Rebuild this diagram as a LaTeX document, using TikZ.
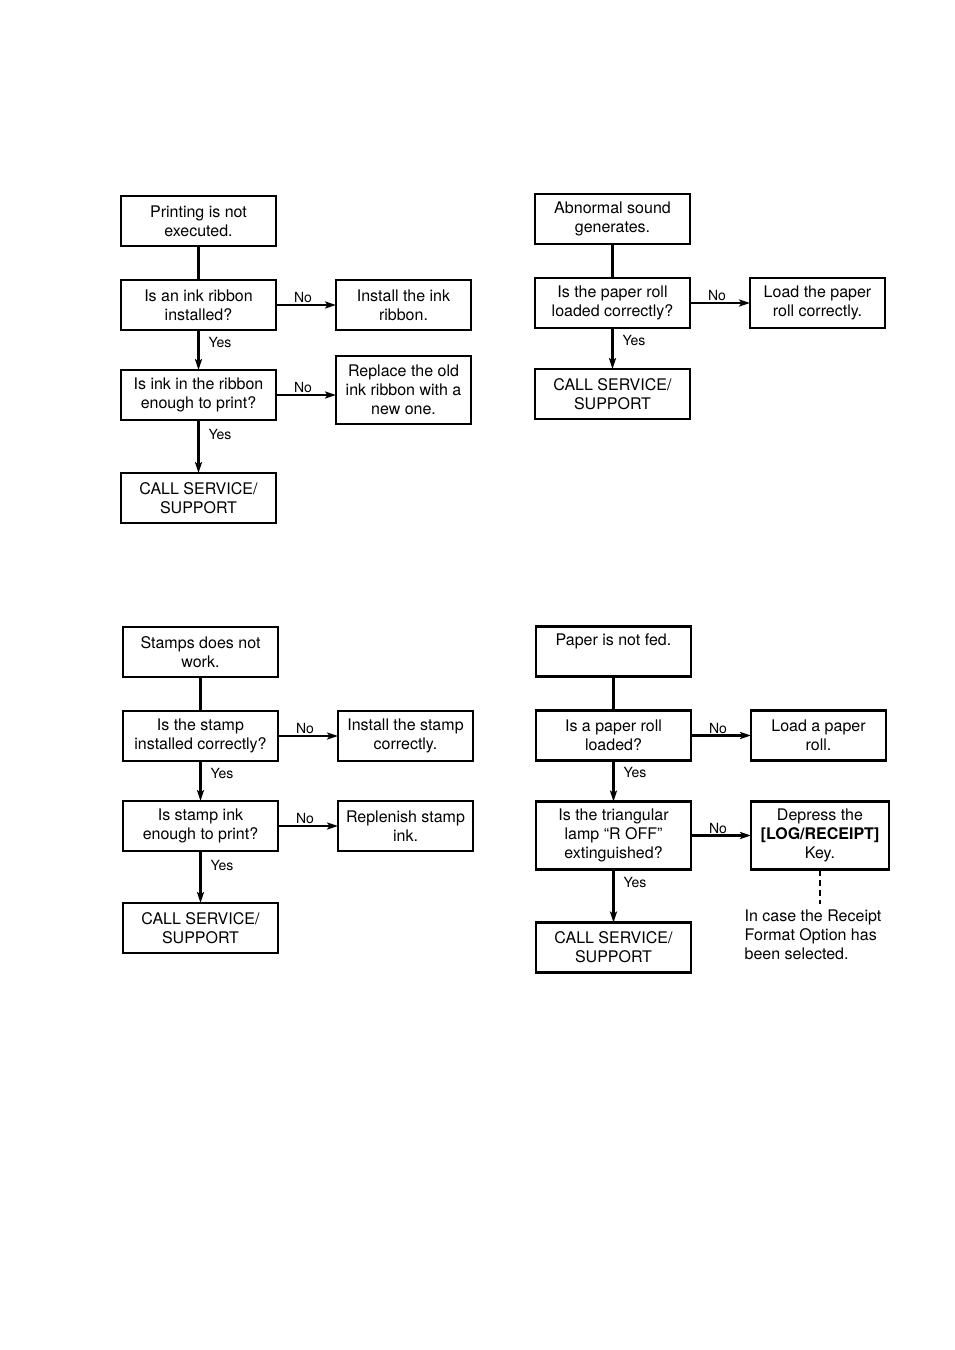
\documentclass[tikz,border=0pt]{standalone}
\usepackage{fontspec}
\setmainfont{TeX Gyre Heros}
\usetikzlibrary{positioning,arrows.meta}

\begin{document}
\begin{tikzpicture}[x=1pt,y=-1pt,font=\fontsize{16}{19}\selectfont,
  box/.style={draw,line width=2.1pt,minimum width=155pt,minimum height=50pt,
              align=center,inner sep=2pt,outer sep=0pt},
  act/.style={box,minimum width=135pt},
  tall/.style={minimum height=68pt},
  a/.style={-{Stealth[length=11pt,width=7pt,inset=2.5pt]},line width=2.2pt},
  ln/.style={line width=2.2pt},
  lab/.style={font=\fontsize{14}{16}\selectfont,inner sep=1pt}]
\useasboundingbox (0,0) rectangle (954,1350);
% printing, top left
\node[box](pstart) at (198.5,221){Printing is not\\executed.};
\node[box,below=34pt of pstart](pribbon){Is an ink ribbon\\installed?};
\node[act,right=60pt of pribbon](pinstall){Install the ink\\ribbon.};
\node[box,below=40pt of pribbon](pink){Is ink in the ribbon\\enough to print?};
\node[act,tall,right=60pt of pink,yshift=5pt](preplace){Replace the old\\ink ribbon with a\\new one.};
\node[box,below=53pt of pink](pcall){CALL SERVICE/\\SUPPORT};
\draw[ln](pstart)--(pribbon);
\draw[a](pribbon)--node[lab,above,pos=0.45]{No}(pinstall);
\draw[a](pribbon)--node[lab,right=8pt,pos=0.3]{Yes}(pink);
\draw[a](pink.east)--node[lab,above,pos=0.45]{No}(pink.east-|preplace.west);
\draw[a](pink)--node[lab,right=8pt,pos=0.27]{Yes}(pcall);
% abnormal sound, top right
\node[box](sstart) at (612.5,219){Abnormal sound\\generates.};
\node[box,below=34pt of sstart](sroll){Is the paper roll\\loaded correctly?};
\node[act,right=60pt of sroll](sload){Load the paper\\roll correctly.};
\node[box,below=41pt of sroll](scall){CALL SERVICE/\\SUPPORT};
\draw[ln](sstart)--(sroll);
\draw[a](sroll)--node[lab,above,pos=0.45]{No}(sload);
\draw[a](sroll)--node[lab,right=8pt,pos=0.3]{Yes}(scall);
% stamps, bottom left
\node[box](tstart) at (200.5,652){Stamps does not\\work.};
\node[box,below=34pt of tstart](tstamp){Is the stamp\\installed correctly?};
\node[act,right=60pt of tstamp](tinstall){Install the stamp\\correctly.};
\node[box,below=40pt of tstamp](tink){Is stamp ink\\enough to print?};
\node[act,right=60pt of tink](trefill){Replenish stamp\\ink.};
\node[box,below=52pt of tink](tcall){CALL SERVICE/\\SUPPORT};
\draw[ln](tstart)--(tstamp);
\draw[a](tstamp)--node[lab,above,pos=0.45]{No}(tinstall);
\draw[a](tstamp)--node[lab,right=8pt,pos=0.3]{Yes}(tink);
\draw[a](tink)--node[lab,above,pos=0.45]{No}(trefill);
\draw[a](tink)--node[lab,right=8pt,pos=0.27]{Yes}(tcall);
% paper feed, bottom right
\node[box](fstart) at (613.5,651.5){Paper is not fed.\\\strut};
\node[box,below=34pt of fstart](froll){Is a paper roll\\loaded?};
\node[act,right=60pt of froll](fload){Load a paper\\roll.};
\node[box,tall,below=41pt of froll](flamp){Is the triangular\\lamp “R OFF”\\extinguished?};
\node[act,tall,right=60pt of flamp,minimum width=138pt](fkey){Depress the\\\textbf{[LOG/RECEIPT]}\\Key.};
\node[box,below=53pt of flamp](fcall){CALL SERVICE/\\SUPPORT};
\coordinate[below=34pt of fkey](fdash);
\node[below=4pt of fdash,xshift=-7pt,align=left,inner sep=2pt](fnote){In case the Receipt\\Format Option has\\been selected.};
\draw[ln](fstart)--(froll);
\draw[a](froll)--node[lab,above,pos=0.45]{No}(fload);
\draw[a](froll)--node[lab,right=8pt,pos=0.3]{Yes}(flamp);
\draw[a](flamp)--node[lab,above,pos=0.45]{No}(fkey);
\draw[a](flamp)--node[lab,right=8pt,pos=0.25]{Yes}(fcall);
\draw[ln,dash pattern=on 6pt off 4pt](fkey)--(fdash);
\end{tikzpicture}
\end{document}
